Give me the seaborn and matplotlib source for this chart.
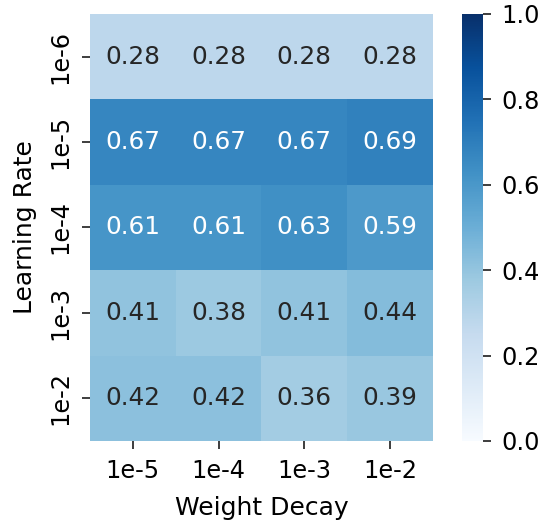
import numpy as np
import pandas as pd
import matplotlib
matplotlib.use("Agg")
import matplotlib.pyplot as plt
import seaborn as sns

learning_rates = ["1e-6", "1e-5", "1e-4", "1e-3", "1e-2"]
weight_decays = ["1e-5", "1e-4", "1e-3", "1e-2"]
scores = [
    [0.28, 0.28, 0.28, 0.28],
    [0.67, 0.67, 0.67, 0.69],
    [0.61, 0.61, 0.63, 0.59],
    [0.41, 0.38, 0.41, 0.44],
    [0.42, 0.42, 0.36, 0.39],
]

df = pd.DataFrame(scores, index=learning_rates, columns=weight_decays)

plt.rcParams["font.family"] = ["DejaVu Sans"]
label_fs = 18
tick_fs = 17.3
annot_fs = 17.8
fig = plt.figure(figsize=(5.44, 5.22), dpi=100)
ax = fig.add_axes([0.1654, 0.1552, 0.6305, 0.818])
cax = fig.add_axes([0.849, 0.1552, 0.0386, 0.818])

sns.heatmap(df, ax=ax, cbar_ax=cax, cmap="Blues", vmin=0, vmax=1,
            annot=True, fmt=".2f", annot_kws={"fontsize": annot_fs})

ax.set_xlabel("Weight Decay", fontsize=label_fs, labelpad=9)
ax.set_ylabel("Learning Rate", fontsize=label_fs, labelpad=8)
ax.tick_params(axis="both", labelsize=tick_fs, left=True, bottom=True,
               length=6, width=1.25, pad=7, color="#262626")
ax.set_yticklabels(learning_rates, rotation=90, va="center")
cax.tick_params(labelsize=tick_fs, length=6, width=1.25, pad=7, color="#262626")

fig.savefig("out.png", dpi=100)
